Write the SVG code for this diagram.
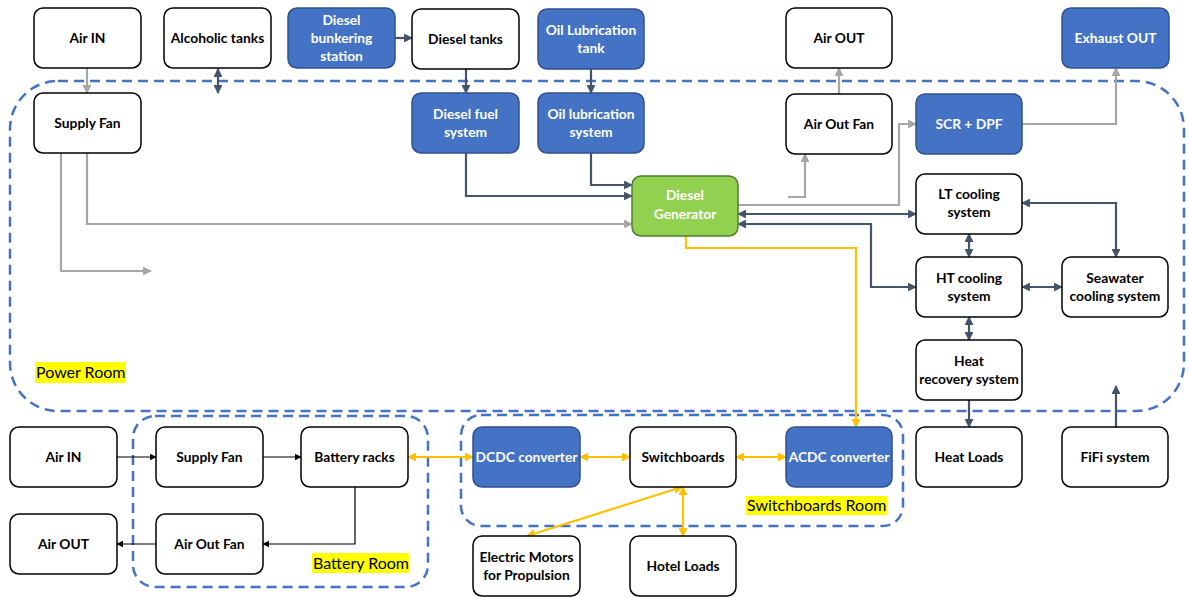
<svg xmlns="http://www.w3.org/2000/svg" width="1189" height="597" viewBox="0 0 1189 597">
<style>
.n rect{fill:#fff;stroke:#000;stroke-width:1.5}
.b rect{fill:#4472C4;stroke:#2F528F;stroke-width:1.5}
.g rect{fill:#92D050;stroke:#507E32;stroke-width:1.5}
text{font-family:Lato,"Open Sans","Liberation Sans",sans-serif;font-size:13.8px;font-weight:bold;text-anchor:middle;fill:#000}
.b text,.g text{fill:#fff}
.room{fill:none;stroke:#4472C4;stroke-width:2.5;stroke-dasharray:10 6}
.lbl{font-weight:normal;font-size:16px;text-anchor:start}
.gr{fill:none;stroke:#A6A6A6;stroke-width:2.2;marker-end:url(#ag)}
.sl{fill:none;stroke:#44546A;stroke-width:2.2;marker-end:url(#as)}
.sl2{fill:none;stroke:#44546A;stroke-width:2.2;marker-end:url(#as);marker-start:url(#as)}
.ye{fill:none;stroke:#FFC000;stroke-width:2.2;marker-end:url(#ay)}
.ye2{fill:none;stroke:#FFC000;stroke-width:2.2;marker-end:url(#ay);marker-start:url(#ay)}
.bk{fill:none;stroke:#000;stroke-width:1.2;marker-end:url(#ak)}
</style>
<defs>
<marker id="ag" viewBox="0 0 10 10" refX="9" refY="5" markerWidth="4" markerHeight="4" orient="auto-start-reverse" markerUnits="strokeWidth"><path d="M0,0L10,5L0,10z" fill="#A6A6A6"/></marker>
<marker id="as" viewBox="0 0 10 10" refX="9" refY="5" markerWidth="4" markerHeight="4" orient="auto-start-reverse" markerUnits="strokeWidth"><path d="M0,0L10,5L0,10z" fill="#44546A"/></marker>
<marker id="ay" viewBox="0 0 10 10" refX="9" refY="5" markerWidth="4" markerHeight="4" orient="auto-start-reverse" markerUnits="strokeWidth"><path d="M0,0L10,5L0,10z" fill="#FFC000"/></marker>
<marker id="ak" viewBox="0 0 10 10" refX="9" refY="5" markerWidth="6" markerHeight="6" orient="auto-start-reverse" markerUnits="strokeWidth"><path d="M0,0L10,5L0,10z" fill="#000"/></marker>
</defs>

<g id="rooms">
<rect class="room" x="10" y="81" width="1174" height="330" rx="48"/>
<rect class="room" x="133" y="416" width="295" height="171" rx="22"/>
<rect class="room" x="461" y="415" width="442" height="111" rx="20"/>
<rect x="35" y="362" width="91" height="21" fill="#FFFF00"/>
<text class="lbl" x="36" y="378">Power Room</text>
<rect x="312" y="553" width="97" height="20" fill="#FFFF00"/>
<text class="lbl" x="313" y="569">Battery Room</text>
<rect x="746" y="496" width="141" height="19" fill="#FFFF00"/>
<text class="lbl" x="747" y="511">Switchboards Room</text>
</g>

<g id="connectors">
<path class="gr" d="M87,68V93"/>
<path class="gr" d="M87,153V224H632"/>
<path class="gr" d="M61,153V271H151"/>
<path class="gr" d="M788,197H805V154"/>
<path class="gr" d="M839,94V68"/>
<path class="gr" d="M738,205H899V124H916"/>
<path class="gr" d="M1022,124H1116V68"/>
<path class="sl" d="M395,38H412"/>
<path class="sl2" d="M218,69V93"/>
<path class="sl" d="M466,69V93"/>
<path class="sl" d="M591,69V93"/>
<path class="sl" d="M466,153V196H632"/>
<path class="sl" d="M591,153V185H632"/>
<path class="sl2" d="M738,214H916"/>
<path class="sl2" d="M738,224H871V287H916"/>
<path class="sl2" d="M969,234V257"/>
<path class="sl2" d="M1022,203H1116V257"/>
<path class="sl2" d="M1022,287H1062"/>
<path class="sl2" d="M969,317V340"/>
<path class="sl" d="M969,400V427"/>
<path class="sl" d="M1116,427V386"/>
<path class="ye" d="M686,236V248H856V427"/>
<path class="ye2" d="M408,457H473"/>
<path class="ye2" d="M580,457H630"/>
<path class="ye2" d="M736,457H786"/>
<path class="ye2" d="M682,487L527,536"/>
<path class="ye2" d="M683,487V536"/>
<path class="bk" d="M117,457H156"/>
<path class="bk" d="M263,457H301"/>
<path class="bk" d="M355,487V544H263"/>
<path class="bk" d="M156,544H117"/>
</g>

<g id="air-in-top" class="n"><rect x="34" y="8" width="107" height="60" rx="9"/><text x="87.5" y="43">Air IN</text></g>
<g id="alcoholic-tanks" class="n"><rect x="164" y="8" width="107" height="60" rx="9"/><text x="217.5" y="43">Alcoholic tanks</text></g>
<g id="diesel-bunkering" class="b"><rect x="288" y="8" width="107" height="60" rx="9"/><text x="341.5" y="25">Diesel</text><text x="341.5" y="43">bunkering</text><text x="341.5" y="61">station</text></g>
<g id="diesel-tanks" class="n"><rect x="412" y="9" width="107" height="60" rx="9"/><text x="465.5" y="44">Diesel tanks</text></g>
<g id="oil-lub-tank" class="b"><rect x="538" y="9" width="106" height="60" rx="9"/><text x="591" y="35">Oil Lubrication</text><text x="591" y="53">tank</text></g>
<g id="air-out-top" class="n"><rect x="786" y="8" width="106" height="60" rx="9"/><text x="839" y="43">Air OUT</text></g>
<g id="exhaust-out" class="b"><rect x="1062" y="8" width="107" height="60" rx="9"/><text x="1115.5" y="43">Exhaust OUT</text></g>

<g id="supply-fan-top" class="n"><rect x="34" y="93" width="107" height="60" rx="9"/><text x="87.5" y="128">Supply Fan</text></g>
<g id="diesel-fuel-system" class="b"><rect x="412" y="93" width="107" height="60" rx="9"/><text x="465.5" y="119">Diesel fuel</text><text x="465.5" y="137">system</text></g>
<g id="oil-lub-system" class="b"><rect x="538" y="93" width="106" height="60" rx="9"/><text x="591" y="119">Oil lubrication</text><text x="591" y="137">system</text></g>
<g id="air-out-fan-top" class="n"><rect x="786" y="94" width="106" height="60" rx="9"/><text x="839" y="129">Air Out Fan</text></g>
<g id="scr-dpf" class="b"><rect x="916" y="94" width="106" height="60" rx="9"/><text x="969" y="129">SCR + DPF</text></g>

<g id="diesel-generator" class="g"><rect x="632" y="176" width="106" height="60" rx="9"/><text x="685" y="200">Diesel</text><text x="685" y="219">Generator</text></g>
<g id="lt-cooling" class="n"><rect x="916" y="174" width="106" height="60" rx="9"/><text x="969" y="199">LT cooling</text><text x="969" y="217">system</text></g>
<g id="ht-cooling" class="n"><rect x="916" y="257" width="106" height="60" rx="9"/><text x="969" y="283">HT cooling</text><text x="969" y="301">system</text></g>
<g id="seawater-cooling" class="n"><rect x="1062" y="257" width="106" height="60" rx="9"/><text x="1115" y="283">Seawater</text><text x="1115" y="301">cooling system</text></g>
<g id="heat-recovery" class="n"><rect x="916" y="340" width="106" height="60" rx="9"/><text x="969" y="366">Heat</text><text x="969" y="384">recovery system</text></g>
<g id="heat-loads" class="n"><rect x="916" y="427" width="106" height="60" rx="9"/><text x="969" y="462">Heat Loads</text></g>
<g id="fifi-system" class="n"><rect x="1062" y="427" width="106" height="60" rx="9"/><text x="1115" y="462">FiFi system</text></g>

<g id="air-in-bottom" class="n"><rect x="10" y="427" width="107" height="60" rx="9"/><text x="63.5" y="462">Air IN</text></g>
<g id="supply-fan-bottom" class="n"><rect x="156" y="427" width="107" height="60" rx="9"/><text x="209.5" y="462">Supply Fan</text></g>
<g id="battery-racks" class="n"><rect x="301" y="427" width="107" height="60" rx="9"/><text x="354.5" y="462">Battery racks</text></g>
<g id="air-out-bottom" class="n"><rect x="10" y="514" width="107" height="60" rx="9"/><text x="63.5" y="549">Air OUT</text></g>
<g id="air-out-fan-bottom" class="n"><rect x="156" y="514" width="107" height="60" rx="9"/><text x="209.5" y="549">Air Out Fan</text></g>

<g id="dcdc-converter" class="b"><rect x="473" y="427" width="107" height="60" rx="9"/><text x="526.5" y="462">DCDC converter</text></g>
<g id="switchboards" class="n"><rect x="630" y="427" width="106" height="60" rx="9"/><text x="683" y="462">Switchboards</text></g>
<g id="acdc-converter" class="b"><rect x="786" y="427" width="106" height="60" rx="9"/><text x="839" y="462">ACDC converter</text></g>
<g id="electric-motors" class="n"><rect x="473" y="536" width="107" height="60" rx="9"/><text x="526.5" y="562">Electric Motors</text><text x="526.5" y="580">for Propulsion</text></g>
<g id="hotel-loads" class="n"><rect x="630" y="536" width="106" height="60" rx="9"/><text x="683" y="571">Hotel Loads</text></g>
</svg>
